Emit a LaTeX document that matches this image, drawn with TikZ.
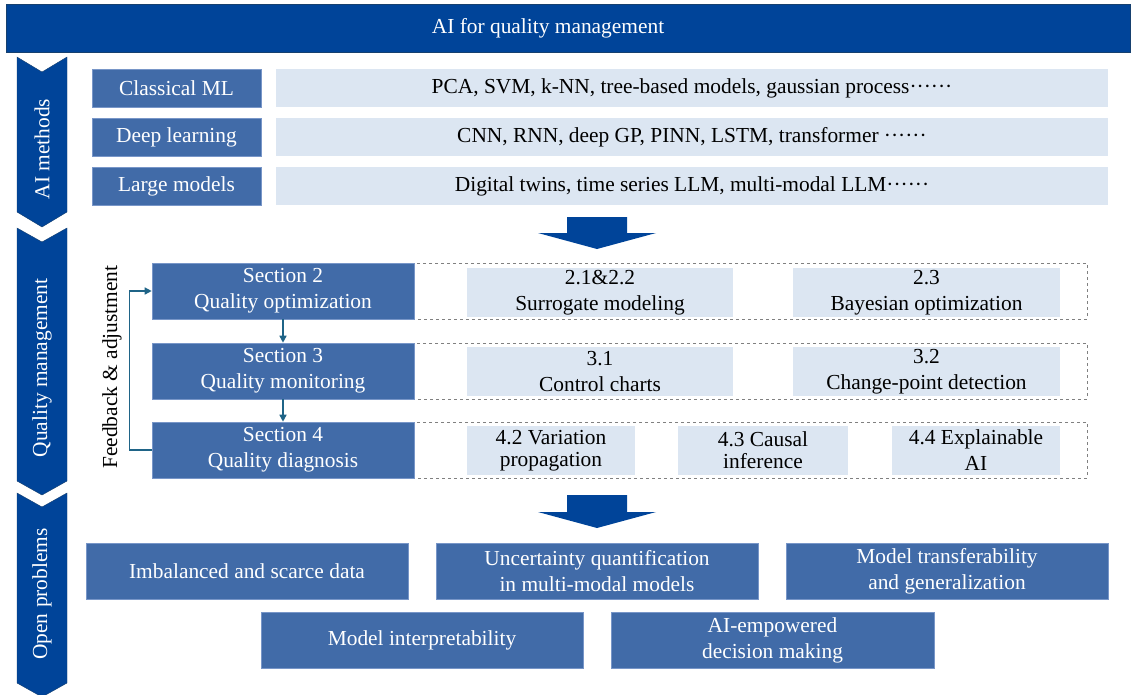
\documentclass[tikz,border=0pt]{standalone}
\usepackage{fontspec}
\setmainfont{Liberation Serif}
\usetikzlibrary{arrows.meta}

\definecolor{navy}{RGB}{0,68,153}
\definecolor{navyedge}{RGB}{22,64,111}
\definecolor{steel}{RGB}{65,107,168}
\definecolor{rim}{RGB}{120,150,200}
\definecolor{pale}{RGB}{220,230,242}
\definecolor{linkteal}{RGB}{31,100,135}

\tikzset{
  base/.style={font=\fontsize{21.4}{26}\selectfont, inner sep=0pt, align=center},
  method/.style={base, fill=steel, draw=rim, line width=0.6pt, text=white, minimum width=169, minimum height=38},
  example/.style={base, fill=pale, minimum width=832, minimum height=38},
  section/.style={base, fill=steel, draw=rim, line width=0.6pt, text=white, minimum width=262, minimum height=56},
  topic/.style={base, fill=pale, minimum height=49},
  problem/.style={base, fill=steel, draw=rim, line width=0.6pt, text=white, minimum width=322, minimum height=56},
  phase/.style={base, text=white, rotate=90},
  fb/.style={draw=linkteal, line width=1.5pt, -{Triangle[length=7pt,width=7pt]}}
}

\begin{document}
\begin{tikzpicture}[x=1pt, y=-1pt]
  \useasboundingbox (0,0) rectangle (1133,694);
  \clip (0,0) rectangle (1133,694);

  \draw[navyedge, fill=navy, thin] (6,4) rectangle (1130,52);
  \node[base, text=white] (title) at (548,28) {AI for quality management};

  \draw[navyedge, fill=navy, thin] (17,57) -- (42,72) -- (67,57) -- (67,212) -- (42,227) -- (17,212) -- cycle;
  \draw[navyedge, fill=navy, thin] (17,228) -- (42,242) -- (67,228) -- (67,481) -- (42,495) -- (17,481) -- cycle;
  \draw[navyedge, fill=navy, thin] (17,493) -- (42,507) -- (67,493) -- (67,683) -- (42,697) -- (17,683) -- cycle;
  \node[phase] (aim) at (42,149) {AI methods};
  \node[phase] (qm) at (42,368) {Quality management};
  \node[phase] (op) at (42,594) {Open problems};

  \node[method] (cml) at (176.5,88) {Classical ML};
  \node[method] (dl) at (176.5,137) {Deep learning};
  \node[method] (lm) at (176.5,186) {Large models};
  \node[example] (cmlx) at (692,88) {PCA, SVM, k-NN, tree-based models, gaussian process······};
  \node[example] (dlx) at (692,137) {CNN, RNN, deep GP, PINN, LSTM, transformer ······};
  \node[example] (lmx) at (692,186) {Digital twins, time series LLM, multi-modal LLM······};

  \fill[navy] (567,217) -- (627,217) -- (627,233) -- (656,233) -- (597,249) -- (538,233) -- (567,233) -- cycle;

  \draw[gray, thin, dashed] (414,263) rectangle (1087,319);
  \draw[gray, thin, dashed] (414,343) rectangle (1087,399);
  \draw[gray, thin, dashed] (414,422) rectangle (1087,478);

  \node[section] (sec2) at (283,291) {Section 2\\Quality optimization};
  \node[section] (sec3) at (283,371) {Section 3\\Quality monitoring};
  \node[section] (sec4) at (283,450) {Section 4\\Quality diagnosis};

  \node[topic, minimum width=266] (sur) at (600,292.5) {2.1\&2.2\\Surrogate modeling};
  \node[topic, minimum width=267] (bo) at (926.5,292.5) {2.3\\Bayesian optimization};
  \node[topic, minimum width=266] (cc) at (600,371.5) {3.1\\Control charts};
  \node[topic, minimum width=267] (cpd) at (926.5,371.5) {3.2\\Change-point detection};
  \node[topic, minimum width=168, font=\fontsize{21.4}{22}\selectfont] (vp) at (551,450.5) {4.2 Variation\\propagation};
  \node[topic, minimum width=170, font=\fontsize{21.4}{22}\selectfont] (ci) at (763,450.5) {4.3 Causal\\inference};
  \node[topic, minimum width=168] (xai) at (976,450.5) {4.4 Explainable\\AI};

  \draw[fb] (sec2) -- (sec3);
  \draw[fb] (sec3) -- (sec4);
  \draw[fb] (sec4.west) -- ++(-22,0) |- (sec2.west);
  \node[base, rotate=90] (fbl) at (112,367) {Feedback \& adjustment};

  \fill[navy] (567,495) -- (627,495) -- (627,512) -- (656,512) -- (597,528) -- (538,512) -- (567,512) -- cycle;

  \node[problem] (imb) at (247,571) {Imbalanced and scarce data};
  \node[problem] (unc) at (597,571) {Uncertainty quantification\\in multi-modal models};
  \node[problem] (tra) at (947,571) {Model transferability\\and generalization};
  \node[problem] (itp) at (422,640) {Model interpretability};
  \node[problem, minimum width=323] (dec) at (772.5,640) {AI-empowered\\decision making};
\end{tikzpicture}
\end{document}
